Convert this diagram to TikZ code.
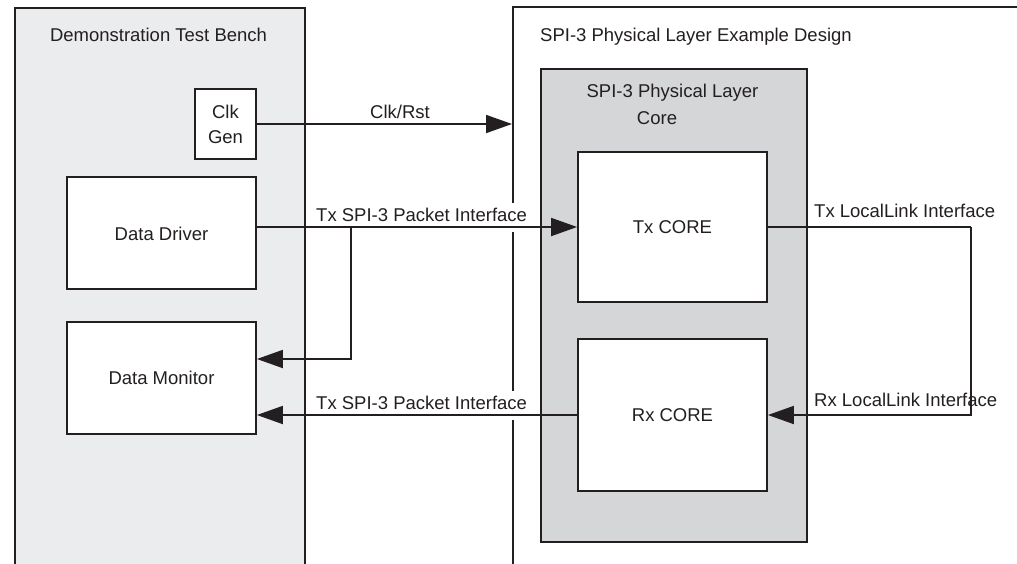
\documentclass[tikz,border=0pt]{standalone}
\usepackage{fontspec}
\setmainfont{Liberation Sans}
\usetikzlibrary{arrows.meta,calc}
\definecolor{ink}{RGB}{35,31,32}
\definecolor{benchgray}{RGB}{235,236,238}
\definecolor{coregray}{RGB}{213,214,216}
\tikzset{
  x=1pt,y=-1pt,
  every node/.style={font=\fontsize{18.5}{22}\selectfont, text=ink},
  panel/.style={draw=ink, line width=1.8pt, anchor=north west, inner sep=0},
  blockbox/.style={draw=ink, line width=1.8pt, fill=white, inner sep=0},
  arr/.style={draw=ink, line width=1.8pt, -{Triangle[length=26pt,width=18pt]}},
  wire/.style={draw=ink, line width=1.8pt},
  lbl/.style={anchor=base west, inner xsep=1pt, inner ysep=0pt},
  gaplbl/.style={lbl, fill=white, text height=18pt, text depth=11pt},
}
\begin{document}
\begin{tikzpicture}
\clip (0,0) rectangle (1017,563);
\fill[white] (0,0) rectangle (1017,563);
% panels
\node[panel, fill=benchgray, minimum width=290pt, minimum height=580pt] (bench) at (14,7) {};
\node[panel, fill=white, minimum width=540pt, minimum height=580pt] (design) at (512,6) {};
\node[anchor=base] (benchtitle) at (158.5,41) {Demonstration Test Bench};
\node[anchor=base west, inner xsep=0] (designtitle) at (540,41) {SPI-3 Physical Layer Example Design};
% core
\node[panel, fill=coregray, minimum width=266pt, minimum height=473pt] (core) at (540,68) {};
\node[anchor=base] (coret1) at (672.5,97) {SPI-3 Physical Layer};
\node[anchor=base] (coret2) at (657,124) {Core};
% blocks
\node[blockbox, minimum width=61pt, minimum height=70pt, align=center] (clk) at (225.5,124) {};
\node[anchor=base] (clkt1) at (225.5,118) {Clk};
\node[anchor=base] (clkt2) at (225.5,143) {Gen};
\node[blockbox, minimum width=189pt, minimum height=112pt] (drv) at (161.5,233) {};
\node[anchor=base] (drvt) at (161.5,240) {Data Driver};
\node[blockbox, minimum width=189pt, minimum height=112pt] (mon) at (161.5,378) {};
\node[anchor=base] (mont) at (161.5,384) {Data Monitor};
\node[blockbox, minimum width=189pt, minimum height=150pt] (tx) at (672.5,227) {Tx CORE};
\node[blockbox, minimum width=189pt, minimum height=152pt] (rx) at (672.5,415) {Rx CORE};
% labels
\node[lbl] (clklbl) at (369,118) {Clk/Rst};
\node[gaplbl] (txlbl) at (315,221) {Tx SPI-3 Packet Interface};
\node[gaplbl] (rxlbl) at (315,409) {Tx SPI-3 Packet Interface};
\node[lbl] (txll) at (813,217) {Tx LocalLink Interface};
\node[gaplbl] (rxll) at (813,406) {Rx LocalLink Interface};
% connectors
\coordinate (brtop) at (351,227);
\coordinate (brbot) at (351,359);
\coordinate (llcorner) at (971,227);
\draw[arr] (clk.east) -- (clk.east -| design.west);
\draw[arr] (drv.east |- tx.west) -- (tx.west);
\draw[arr] (brtop) -- (brbot) -- (brbot -| mon.east);
\draw[arr] (rx.west) -- (rx.west -| mon.east);
\draw[wire] (tx.east) -- (llcorner);
\draw[arr] (llcorner) |- (rx.east);
\end{tikzpicture}
\end{document}
